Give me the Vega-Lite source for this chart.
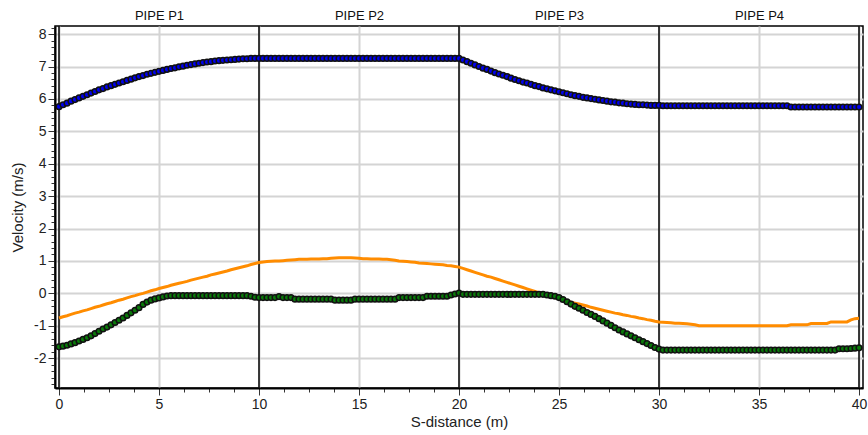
{
  "$schema": "https://vega.github.io/schema/vega-lite/v6.json",
  "width": 808,
  "height": 362,
  "autosize": "none",
  "padding": {"left": 55, "top": 26, "right": 5, "bottom": 47},
  "background": "white",
  "config": {
    "font": "Liberation Sans",
    "view": {"stroke": "black", "strokeWidth": 1.5},
    "axis": {"labelFont": "Liberation Sans", "titleFont": "Liberation Sans", "labelColor": "#222", "titleColor": "#222", "titleFontWeight": "normal"}
  },
  "datasets": {
    "pipes": [{"x": 0}, {"x": 10}, {"x": 20}, {"x": 30}, {"x": 40}],
    "vel": [
      {"s":0,"b":5.76,"g":-1.65,"o":-0.76},{"s":0.2,"b":5.82,"g":-1.63,"o":-0.72},{"s":0.4,"b":5.87,"g":-1.60,"o":-0.69},{"s":0.6,"b":5.93,"g":-1.56,"o":-0.65},{"s":0.8,"b":5.98,"g":-1.52,"o":-0.61},
      {"s":1,"b":6.03,"g":-1.47,"o":-0.58},{"s":1.2,"b":6.08,"g":-1.42,"o":-0.54},{"s":1.4,"b":6.13,"g":-1.37,"o":-0.51},{"s":1.6,"b":6.18,"g":-1.31,"o":-0.47},{"s":1.8,"b":6.23,"g":-1.24,"o":-0.43},
      {"s":2,"b":6.28,"g":-1.17,"o":-0.40},{"s":2.2,"b":6.32,"g":-1.10,"o":-0.36},{"s":2.4,"b":6.37,"g":-1.04,"o":-0.32},{"s":2.6,"b":6.41,"g":-0.97,"o":-0.29},{"s":2.8,"b":6.45,"g":-0.90,"o":-0.25},
      {"s":3,"b":6.49,"g":-0.83,"o":-0.21},{"s":3.2,"b":6.53,"g":-0.76,"o":-0.18},{"s":3.4,"b":6.57,"g":-0.68,"o":-0.14},{"s":3.6,"b":6.61,"g":-0.60,"o":-0.10},{"s":3.8,"b":6.65,"g":-0.52,"o":-0.07},
      {"s":4,"b":6.69,"g":-0.44,"o":-0.03},{"s":4.2,"b":6.72,"g":-0.34,"o":0.00},{"s":4.4,"b":6.76,"g":-0.27,"o":0.04},{"s":4.6,"b":6.79,"g":-0.21,"o":0.08},{"s":4.8,"b":6.82,"g":-0.17,"o":0.11},
      {"s":5,"b":6.85,"g":-0.14,"o":0.15},{"s":5.2,"b":6.88,"g":-0.11,"o":0.18},{"s":5.4,"b":6.91,"g":-0.08,"o":0.21},{"s":5.6,"b":6.94,"g":-0.07,"o":0.25},{"s":5.8,"b":6.96,"g":-0.07,"o":0.28},
      {"s":6,"b":6.99,"g":-0.07,"o":0.31},{"s":6.2,"b":7.01,"g":-0.07,"o":0.34},{"s":6.4,"b":7.04,"g":-0.07,"o":0.37},{"s":6.6,"b":7.06,"g":-0.07,"o":0.41},{"s":6.8,"b":7.08,"g":-0.07,"o":0.44},
      {"s":7,"b":7.10,"g":-0.07,"o":0.47},{"s":7.2,"b":7.12,"g":-0.07,"o":0.50},{"s":7.4,"b":7.14,"g":-0.07,"o":0.53},{"s":7.6,"b":7.15,"g":-0.07,"o":0.57},{"s":7.8,"b":7.17,"g":-0.07,"o":0.60},
      {"s":8,"b":7.18,"g":-0.07,"o":0.63},{"s":8.2,"b":7.19,"g":-0.07,"o":0.66},{"s":8.4,"b":7.20,"g":-0.07,"o":0.69},{"s":8.6,"b":7.21,"g":-0.07,"o":0.73},{"s":8.8,"b":7.22,"g":-0.07,"o":0.76},
      {"s":9,"b":7.23,"g":-0.07,"o":0.79},{"s":9.2,"b":7.24,"g":-0.07,"o":0.82},{"s":9.4,"b":7.24,"g":-0.07,"o":0.85},{"s":9.6,"b":7.25,"g":-0.09,"o":0.89},{"s":9.8,"b":7.25,"g":-0.12,"o":0.92},
      {"s":10,"b":7.25,"g":-0.13,"o":0.95},{"s":10.2,"b":7.25,"g":-0.13,"o":0.97},{"s":10.4,"b":7.25,"g":-0.13,"o":0.98},{"s":10.6,"b":7.25,"g":-0.13,"o":0.99},{"s":10.8,"b":7.25,"g":-0.13,"o":1.00},
      {"s":11,"b":7.25,"g":-0.10,"o":1.00},{"s":11.2,"b":7.25,"g":-0.13,"o":1.01},{"s":11.4,"b":7.25,"g":-0.13,"o":1.02},{"s":11.6,"b":7.25,"g":-0.13,"o":1.03},{"s":11.8,"b":7.25,"g":-0.18,"o":1.04},
      {"s":12,"b":7.25,"g":-0.18,"o":1.05},{"s":12.2,"b":7.25,"g":-0.18,"o":1.05},{"s":12.4,"b":7.25,"g":-0.18,"o":1.05},{"s":12.6,"b":7.25,"g":-0.18,"o":1.06},{"s":12.8,"b":7.25,"g":-0.18,"o":1.06},
      {"s":13,"b":7.25,"g":-0.18,"o":1.06},{"s":13.2,"b":7.25,"g":-0.18,"o":1.07},{"s":13.4,"b":7.25,"g":-0.18,"o":1.07},{"s":13.6,"b":7.25,"g":-0.18,"o":1.08},{"s":13.8,"b":7.25,"g":-0.21,"o":1.09},
      {"s":14,"b":7.25,"g":-0.21,"o":1.10},{"s":14.2,"b":7.25,"g":-0.21,"o":1.10},{"s":14.4,"b":7.25,"g":-0.21,"o":1.10},{"s":14.6,"b":7.25,"g":-0.21,"o":1.10},{"s":14.8,"b":7.25,"g":-0.18,"o":1.09},
      {"s":15,"b":7.25,"g":-0.18,"o":1.08},{"s":15.2,"b":7.25,"g":-0.18,"o":1.07},{"s":15.4,"b":7.25,"g":-0.18,"o":1.07},{"s":15.6,"b":7.25,"g":-0.18,"o":1.06},{"s":15.8,"b":7.25,"g":-0.18,"o":1.06},
      {"s":16,"b":7.25,"g":-0.18,"o":1.06},{"s":16.2,"b":7.25,"g":-0.18,"o":1.05},{"s":16.4,"b":7.25,"g":-0.18,"o":1.05},{"s":16.6,"b":7.25,"g":-0.18,"o":1.04},{"s":16.8,"b":7.25,"g":-0.18,"o":1.02},
      {"s":17,"b":7.25,"g":-0.13,"o":1.00},{"s":17.2,"b":7.25,"g":-0.13,"o":0.99},{"s":17.4,"b":7.25,"g":-0.13,"o":0.98},{"s":17.6,"b":7.25,"g":-0.13,"o":0.97},{"s":17.8,"b":7.25,"g":-0.13,"o":0.96},
      {"s":18,"b":7.25,"g":-0.13,"o":0.94},{"s":18.2,"b":7.25,"g":-0.13,"o":0.93},{"s":18.4,"b":7.25,"g":-0.09,"o":0.92},{"s":18.6,"b":7.25,"g":-0.09,"o":0.91},{"s":18.8,"b":7.25,"g":-0.09,"o":0.90},
      {"s":19,"b":7.25,"g":-0.09,"o":0.89},{"s":19.2,"b":7.25,"g":-0.09,"o":0.88},{"s":19.4,"b":7.25,"g":-0.09,"o":0.86},{"s":19.6,"b":7.25,"g":-0.05,"o":0.85},{"s":19.8,"b":7.25,"g":-0.02,"o":0.83},
      {"s":20,"b":7.25,"g":0.01,"o":0.81},{"s":20.2,"b":7.20,"g":-0.03,"o":0.77},{"s":20.4,"b":7.15,"g":-0.03,"o":0.73},{"s":20.6,"b":7.10,"g":-0.03,"o":0.69},{"s":20.8,"b":7.05,"g":-0.03,"o":0.65},
      {"s":21,"b":7.00,"g":-0.03,"o":0.61},{"s":21.2,"b":6.95,"g":-0.03,"o":0.57},{"s":21.4,"b":6.91,"g":-0.03,"o":0.53},{"s":21.6,"b":6.86,"g":-0.03,"o":0.50},{"s":21.8,"b":6.81,"g":-0.03,"o":0.46},
      {"s":22,"b":6.77,"g":-0.03,"o":0.42},{"s":22.2,"b":6.73,"g":-0.03,"o":0.38},{"s":22.4,"b":6.69,"g":-0.03,"o":0.34},{"s":22.6,"b":6.64,"g":-0.03,"o":0.30},{"s":22.8,"b":6.60,"g":-0.03,"o":0.26},
      {"s":23,"b":6.56,"g":-0.03,"o":0.22},{"s":23.2,"b":6.52,"g":-0.03,"o":0.18},{"s":23.4,"b":6.49,"g":-0.03,"o":0.14},{"s":23.6,"b":6.45,"g":-0.03,"o":0.10},{"s":23.8,"b":6.41,"g":-0.03,"o":0.06},
      {"s":24,"b":6.38,"g":-0.03,"o":0.02},{"s":24.2,"b":6.34,"g":-0.03,"o":-0.02},{"s":24.4,"b":6.31,"g":-0.05,"o":-0.06},{"s":24.6,"b":6.28,"g":-0.07,"o":-0.10},{"s":24.8,"b":6.25,"g":-0.09,"o":-0.13},
      {"s":25,"b":6.22,"g":-0.13,"o":-0.17},{"s":25.2,"b":6.19,"g":-0.19,"o":-0.20},{"s":25.4,"b":6.16,"g":-0.26,"o":-0.23},{"s":25.6,"b":6.13,"g":-0.33,"o":-0.27},{"s":25.8,"b":6.10,"g":-0.40,"o":-0.30},
      {"s":26,"b":6.08,"g":-0.46,"o":-0.33},{"s":26.2,"b":6.05,"g":-0.52,"o":-0.36},{"s":26.4,"b":6.03,"g":-0.59,"o":-0.39},{"s":26.6,"b":6.01,"g":-0.65,"o":-0.43},{"s":26.8,"b":5.99,"g":-0.71,"o":-0.46},
      {"s":27,"b":5.97,"g":-0.78,"o":-0.49},{"s":27.2,"b":5.95,"g":-0.85,"o":-0.52},{"s":27.4,"b":5.93,"g":-0.92,"o":-0.55},{"s":27.6,"b":5.91,"g":-0.99,"o":-0.58},{"s":27.8,"b":5.90,"g":-1.06,"o":-0.61},
      {"s":28,"b":5.88,"g":-1.13,"o":-0.63},{"s":28.2,"b":5.87,"g":-1.19,"o":-0.66},{"s":28.4,"b":5.85,"g":-1.25,"o":-0.68},{"s":28.6,"b":5.84,"g":-1.31,"o":-0.71},{"s":28.8,"b":5.83,"g":-1.37,"o":-0.73},
      {"s":29,"b":5.82,"g":-1.43,"o":-0.76},{"s":29.2,"b":5.82,"g":-1.49,"o":-0.78},{"s":29.4,"b":5.81,"g":-1.55,"o":-0.81},{"s":29.6,"b":5.80,"g":-1.61,"o":-0.83},{"s":29.8,"b":5.80,"g":-1.67,"o":-0.86},
      {"s":30,"b":5.80,"g":-1.72,"o":-0.88},{"s":30.2,"b":5.79,"g":-1.75,"o":-0.89},{"s":30.4,"b":5.79,"g":-1.75,"o":-0.90},{"s":30.6,"b":5.79,"g":-1.75,"o":-0.91},{"s":30.8,"b":5.79,"g":-1.75,"o":-0.92},
      {"s":31,"b":5.79,"g":-1.75,"o":-0.92},{"s":31.2,"b":5.79,"g":-1.75,"o":-0.93},{"s":31.4,"b":5.79,"g":-1.75,"o":-0.94},{"s":31.6,"b":5.79,"g":-1.75,"o":-0.95},{"s":31.8,"b":5.79,"g":-1.75,"o":-0.97},
      {"s":32,"b":5.79,"g":-1.75,"o":-1.00},{"s":32.2,"b":5.79,"g":-1.75,"o":-1.00},{"s":32.4,"b":5.79,"g":-1.75,"o":-1.00},{"s":32.6,"b":5.79,"g":-1.75,"o":-1.00},{"s":32.8,"b":5.79,"g":-1.75,"o":-1.00},
      {"s":33,"b":5.79,"g":-1.75,"o":-1.00},{"s":33.2,"b":5.79,"g":-1.75,"o":-1.00},{"s":33.4,"b":5.79,"g":-1.75,"o":-1.00},{"s":33.6,"b":5.79,"g":-1.75,"o":-1.00},{"s":33.8,"b":5.79,"g":-1.75,"o":-1.00},
      {"s":34,"b":5.79,"g":-1.75,"o":-1.00},{"s":34.2,"b":5.79,"g":-1.75,"o":-1.00},{"s":34.4,"b":5.79,"g":-1.75,"o":-1.00},{"s":34.6,"b":5.79,"g":-1.75,"o":-1.00},{"s":34.8,"b":5.79,"g":-1.75,"o":-1.00},
      {"s":35,"b":5.79,"g":-1.75,"o":-1.00},{"s":35.2,"b":5.79,"g":-1.75,"o":-1.00},{"s":35.4,"b":5.79,"g":-1.75,"o":-1.00},{"s":35.6,"b":5.79,"g":-1.75,"o":-1.00},{"s":35.8,"b":5.79,"g":-1.75,"o":-1.00},
      {"s":36,"b":5.79,"g":-1.75,"o":-1.00},{"s":36.2,"b":5.79,"g":-1.75,"o":-1.00},{"s":36.4,"b":5.79,"g":-1.75,"o":-1.00},{"s":36.6,"b":5.75,"g":-1.75,"o":-0.97},{"s":36.8,"b":5.75,"g":-1.75,"o":-0.97},
      {"s":37,"b":5.75,"g":-1.75,"o":-0.97},{"s":37.2,"b":5.75,"g":-1.75,"o":-0.97},{"s":37.4,"b":5.75,"g":-1.75,"o":-0.97},{"s":37.6,"b":5.75,"g":-1.75,"o":-0.93},{"s":37.8,"b":5.75,"g":-1.75,"o":-0.93},
      {"s":38,"b":5.75,"g":-1.75,"o":-0.93},{"s":38.2,"b":5.75,"g":-1.75,"o":-0.93},{"s":38.4,"b":5.75,"g":-1.75,"o":-0.93},{"s":38.6,"b":5.75,"g":-1.75,"o":-0.88},{"s":38.8,"b":5.75,"g":-1.75,"o":-0.88},
      {"s":39,"b":5.75,"g":-1.71,"o":-0.88},{"s":39.2,"b":5.75,"g":-1.71,"o":-0.88},{"s":39.4,"b":5.75,"g":-1.71,"o":-0.88},{"s":39.6,"b":5.75,"g":-1.70,"o":-0.82},{"s":39.8,"b":5.75,"g":-1.69,"o":-0.78},
      {"s":40,"b":5.75,"g":-1.68,"o":-0.77}
    ]
  },
  "layer": [
    {
      "data": {"name": "pipes"},
      "mark": {"type": "rule", "color": "black", "strokeWidth": 1.5},
      "encoding": {
        "x": {
          "field": "x", "type": "quantitative",
          "scale": {"domain": [-0.2, 40.2], "nice": false, "zero": false},
          "axis": {
            "orient": "top", "values": [5, 15, 25, 35], "title": null,
            "labelExpr": "'PIPE P' + toString(datum.value / 10 + 0.5)",
            "ticks": false, "domain": false, "grid": false,
            "labelFontSize": 13, "labelPadding": 4, "labelColor": "#111"
          }
        }
      }
    },
    {
      "data": {"name": "vel"},
      "mark": {"type": "line", "color": "#FF8C00", "strokeWidth": 3, "interpolate": "linear"},
      "encoding": {
        "x": {
          "field": "s", "type": "quantitative",
          "scale": {"domain": [-0.2, 40.2], "nice": false, "zero": false},
          "axis": {
            "orient": "bottom", "title": "S-distance (m)",
            "values": [0, 1.25, 2.5, 3.75, 5, 6.25, 7.5, 8.75, 10, 11.25, 12.5, 13.75, 15, 16.25, 17.5, 18.75, 20, 21.25, 22.5, 23.75, 25, 26.25, 27.5, 28.75, 30, 31.25, 32.5, 33.75, 35, 36.25, 37.5, 38.75, 40],
            "labelExpr": "datum.value % 5 === 0 ? toString(datum.value) : ''",
            "grid": true, "gridColor": "#d4d4d4", "gridWidth": 2,
            "gridOpacity": {"condition": {"test": "datum.value % 5 === 0", "value": 1}, "value": 0},
            "tickColor": "#333", "tickWidth": 1,
            "tickSize": {"condition": {"test": "datum.value % 5 === 0", "value": 7}, "value": 4},
            "domainColor": "black", "domainWidth": 2,
            "labelFontSize": 14, "labelPadding": 2, "labelFlush": false, "labelOverlap": false,
            "titleFontSize": 15, "titlePadding": 3
          }
        },
        "y": {
          "field": "o", "type": "quantitative",
          "scale": {"domain": [-2.92, 8.25], "nice": false, "zero": false},
          "axis": {
            "orient": "left",
            "title": "Velocity (m/s)",
            "values": [-2.8, -2.6, -2.4, -2.2, -2, -1.8, -1.6, -1.4, -1.2, -1, -0.8, -0.6, -0.4, -0.2, 0, 0.2, 0.4, 0.6, 0.8, 1, 1.2, 1.4, 1.6, 1.8, 2, 2.2, 2.4, 2.6, 2.8, 3, 3.2, 3.4, 3.6, 3.8, 4, 4.2, 4.4, 4.6, 4.8, 5, 5.2, 5.4, 5.6, 5.8, 6, 6.2, 6.4, 6.6, 6.8, 7, 7.2, 7.4, 7.6, 7.8, 8, 8.2],
            "labelExpr": "datum.value % 1 === 0 ? toString(datum.value) : ''",
            "grid": true, "gridColor": "#d4d4d4", "gridWidth": 2,
            "gridOpacity": {"condition": {"test": "datum.value % 1 === 0", "value": 1}, "value": 0},
            "tickColor": "#333", "tickWidth": 1,
            "tickSize": {"condition": {"test": "datum.value % 1 === 0", "value": 7}, "value": 4},
            "domainColor": "black", "domainWidth": 2,
            "labelFontSize": 14, "labelPadding": 2, "labelFlush": false, "labelOverlap": false,
            "titleFontSize": 15, "titlePadding": 8
          }
        }
      }
    },
    {
      "data": {"name": "vel"},
      "mark": {"type": "point", "shape": "circle", "filled": true, "fill": "#0a7a0a", "stroke": "#111", "strokeWidth": 1.5, "size": 32, "opacity": 1},
      "encoding": {
        "x": {"field": "s", "type": "quantitative", "scale": {"domain": [-0.2, 40.2], "nice": false, "zero": false}, "axis": null},
        "y": {"field": "g", "type": "quantitative", "scale": {"domain": [-2.92, 8.25], "nice": false, "zero": false}, "axis": null}
      }
    },
    {
      "data": {"name": "vel"},
      "mark": {"type": "point", "shape": "circle", "filled": true, "fill": "#0000ee", "stroke": "#111", "strokeWidth": 1.5, "size": 32, "opacity": 1},
      "encoding": {
        "x": {"field": "s", "type": "quantitative", "scale": {"domain": [-0.2, 40.2], "nice": false, "zero": false}, "axis": null},
        "y": {"field": "b", "type": "quantitative", "scale": {"domain": [-2.92, 8.25], "nice": false, "zero": false}, "axis": null}
      }
    }
  ],
  "resolve": {"axis": {"x": "independent", "y": "independent"}}
}
